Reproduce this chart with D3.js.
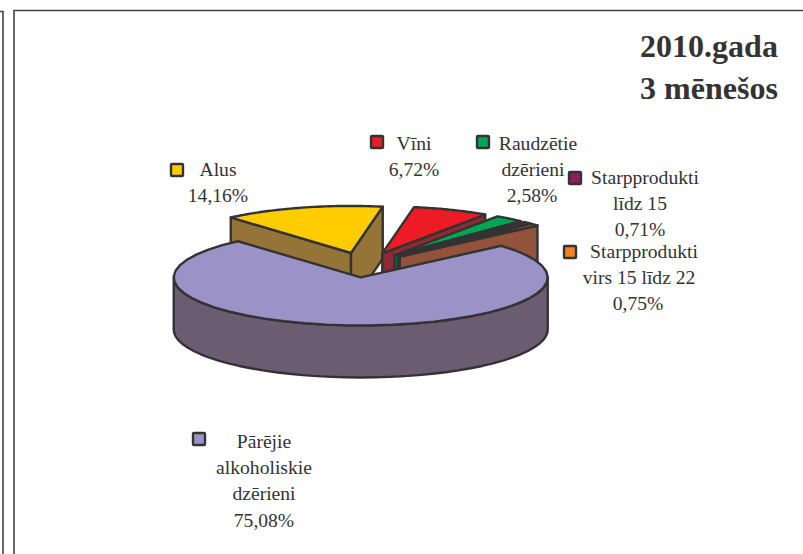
<!DOCTYPE html>
<html>
<head>
<meta charset="utf-8">
<script src="https://cdn.jsdelivr.net/npm/d3@7"></script>
<style>
    html, body { margin: 0; padding: 0; background: #fff; overflow: hidden; }
    text { font-family: "Liberation Serif", serif; fill: #333; }
    .label { font-size: 19.6px; text-anchor: middle; }
    .title { font-size: 32px; font-weight: bold; text-anchor: middle; }
</style>
</head>
<body>
<div id="chart"></div>
<script>
// Data
const categories = ["Alus", "Vīni", "Raudzētie dzērieni", "Starpprodukti līdz 15", "Starpprodukti virs 15 līdz 22", "Pārējie alkoholiskie dzērieni"];
const values = [14.16, 6.72, 2.58, 0.71, 0.75, 75.08];
const labelLines = [
    ["Alus"],
    ["Vīni"],
    ["Raudzētie", "dzērieni"],
    ["Starpprodukti", "līdz 15"],
    ["Starpprodukti", "virs 15 līdz 22"],
    ["Pārējie", "alkoholiskie", "dzērieni"]
];
const titleLines = ["2010.gada", "3 mēnešos"];

const topColors = ["#ffcc00", "#ed1c24", "#00a651", "#8b1f5f", "#f58220", "#9b93c8"];
const wallColors = ["#957537", "#8e2a33", "#00683a", "#571a40", "#93533a", "#6b5c72"];
const outline = "#333";

const width = 803, height = 554;
const center = { x: 364, y: 265 };
const radius = { x: 187, y: 48 };
const depth = 52;
const explode = 0.26;
const smallSlice = 0.98; // exploded slices look a little smaller than the big one

const svg = d3.select("#chart").append("svg")
    .attr("width", width)
    .attr("height", height)
    .attr("viewBox", `0 0 ${width} ${height}`);

// Frame of this chart and the edge of the neighbouring one
svg.append("path")
    .attr("d", "M14,554V10.5H803M0,11.5H3V554")
    .attr("fill", "none")
    .attr("stroke", "#444")
    .attr("stroke-width", 1.6);

// Unit circle to the tilted plane
const xScale = d3.scaleLinear().domain([-1, 1]).range([center.x - radius.x, center.x + radius.x]);
const yScale = d3.scaleLinear().domain([-1, 1]).range([center.y + radius.y, center.y - radius.y]);

const pie = d3.pie().sort(null).startAngle(-41 * Math.PI / 180).endAngle(319 * Math.PI / 180);
const slices = pie(values);
const line = d3.line().curve(d3.curveLinear);

slices.forEach((s, i) => {
    const mid = (s.startAngle + s.endAngle) / 2;
    const ox = explode * Math.sin(mid), oy = explode * Math.cos(mid);
    const r = i === 5 ? 1 : smallSlice;
    const pt = (a, k, drop) => [xScale(ox + k * Math.sin(a)), yScale(oy + k * Math.cos(a)) + drop];
    const arcPts = (a0, a1, drop) => d3.range(0, 41).map((j) => pt(a0 + (a1 - a0) * j / 40, r, drop));

    const g = svg.append("g")
        .attr("stroke", outline)
        .attr("stroke-width", 2.4)
        .attr("stroke-linejoin", "round");

    const wall = (a) => {
        g.append("path")
            .attr("fill", wallColors[i])
            .attr("d", line([pt(a, 0, 0), pt(a, r, 0), pt(a, r, depth), pt(a, 0, depth)]) + "Z");
    };

    // Radial walls that face the viewer
    if (Math.cos(s.startAngle - Math.PI / 2) < 0) wall(s.startAngle);
    if (Math.cos(s.endAngle + Math.PI / 2) < 0) wall(s.endAngle);

    // Outer wall, only the front half of the rim
    const a0 = Math.max(s.startAngle, Math.PI / 2), a1 = Math.min(s.endAngle, 3 * Math.PI / 2);
    if (a1 > a0) {
        g.append("path")
            .attr("fill", wallColors[i])
            .attr("d", line(arcPts(a0, a1, 0).concat(arcPts(a0, a1, depth).reverse())) + "Z");
    }

    // Top face
    g.append("path")
        .attr("fill", topColors[i])
        .attr("d", line([pt(0, 0, 0)].concat(arcPts(s.startAngle, s.endAngle, 0))) + "Z");
});

// Labels: key position, centre of each text line, first baseline
const labelSpots = [
    { keyX: 177, keyY: 170, lineX: [218, 218], y: 176 },
    { keyX: 377, keyY: 142, lineX: [414, 414], y: 150 },
    { keyX: 483, keyY: 142, lineX: [538, 533, 532], y: 150 },
    { keyX: 575, keyY: 178, lineX: [645, 640, 640], y: 184 },
    { keyX: 570, keyY: 252, lineX: [644, 639, 638], y: 258 },
    { keyX: 199, keyY: 439, lineX: [264, 264, 264, 264], y: 448 }
];
const formatPct = (v) => d3.format(".2f")(v).replace(".", ",") + "%";

const labels = svg.selectAll("g.legend-item")
    .data(categories)
    .enter()
    .append("g")
    .attr("class", "legend-item");

labels.append("rect")
    .attr("x", (d, i) => labelSpots[i].keyX - 6)
    .attr("y", (d, i) => labelSpots[i].keyY - 6)
    .attr("width", 12)
    .attr("height", 12)
    .attr("rx", 1)
    .attr("fill", (d, i) => topColors[i])
    .attr("stroke", outline)
    .attr("stroke-width", 2.4);

labels.each(function (d, i) {
    const rows = labelLines[i].concat(formatPct(values[i]));
    d3.select(this).selectAll("text")
        .data(rows)
        .enter()
        .append("text")
        .attr("class", "label")
        .attr("x", (t, j) => labelSpots[i].lineX[j])
        .attr("y", (t, j) => labelSpots[i].y + j * 26.2)
        .text((t) => t);
});

svg.selectAll("text.title")
    .data(titleLines)
    .enter()
    .append("text")
    .attr("class", "title")
    .attr("x", 709)
    .attr("y", (d, i) => 57 + i * 42)
    .text((d) => d);
</script>
</body>
</html>
